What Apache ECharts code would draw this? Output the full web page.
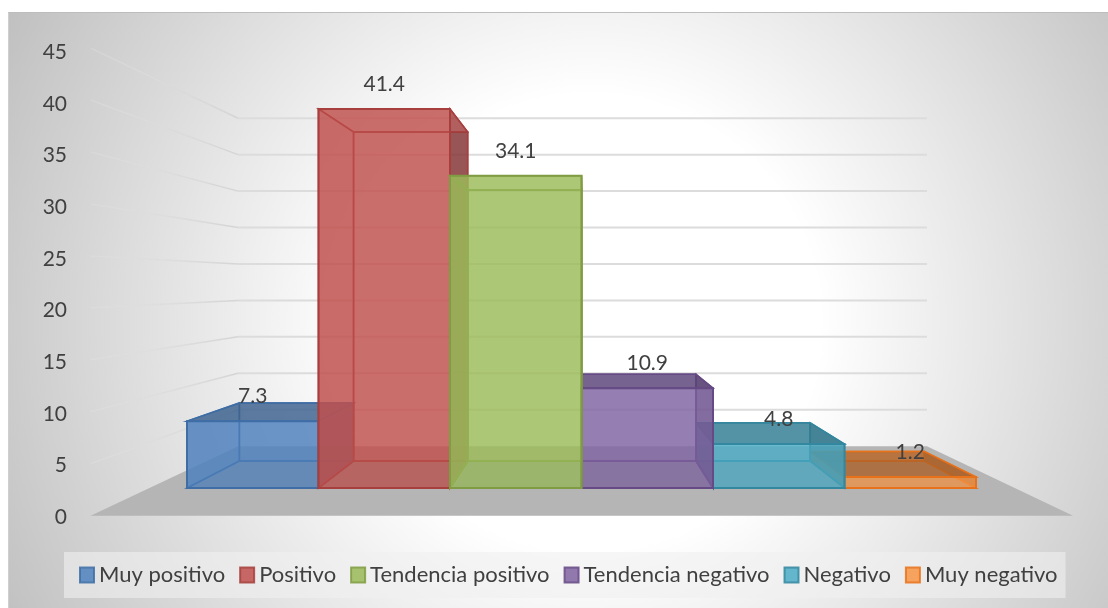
<!DOCTYPE html>
<html>
<head>
<meta charset="utf-8">
<title>Valoracion</title>
<script src="https://cdn.jsdelivr.net/npm/echarts@6/dist/echarts.min.js"></script>
<style>
    html, body { margin: 0; padding: 0; background: #fff; }
    #bg {
        position: absolute; left: 8px; top: 12px; width: 1100px; height: 596px;
        border-top: 1px solid #bdbdbd; border-left: 1px solid #cfcfcf; box-sizing: border-box;
        background: radial-gradient(ellipse 660px 650px at 580px 310px, #fff 35%, #c0c0c0 100%);
    }
    #chart { position: absolute; left: 0; top: 0; width: 1108px; height: 608px; }
</style>
</head>
<body>
<div id="bg"></div>
<div id="chart"></div>
<script>
    const categories = ['Muy positivo', 'Positivo', 'Tendencia positivo', 'Tendencia negativo', 'Negativo', 'Muy negativo'];
    const values = [7.3, 41.4, 34.1, 10.9, 4.8, 1.2];
    const tickValues = [5, 10, 15, 20, 25, 30, 35, 40, 45];

    const faceColors = ['79,129,189', '192,80,77', '155,187,89', '128,100,162', '75,172,198', '247,150,70'];
    const edgeColors = ['#3f6ea6', '#a63f3d', '#7f9c42', '#664a85', '#33879f', '#e8721a'];
    const darkColors = ['62,96,136', '122,50,52', '110,140,60', '88,66,116', '50,120,140', '170,95,40'];
    // bars nearest to the vanishing point are painted last
    const barLayers = [2, 3, 5, 4, 3, 2];

    // perspective of the Excel 3D look
    const VX = 584, VY = 283;
    const DEPTH_WALL_FRONT = 1.135, DEPTH_BAR_BACK = 0.868, DEPTH_WALL = 0.796;
    const FLOOR_LEFT = 149.3, FLOOR_RIGHT = 1014.9;

    function project(x, y, s) {
        return [VX + (x - VX) * s, VY + (y - VY) * s];
    }

    function face(points, fill, stroke, lineWidth) {
        return {
            type: 'polygon',
            shape: { points: points },
            style: { fill: fill, stroke: stroke, lineWidth: lineWidth, lineJoin: 'miter' }
        };
    }

    function renderBar(colorIndex) {
        return function (params, api) {
            const top = api.coord([api.value(0), api.value(1)]);
            const base = api.coord([api.value(0), 0]);
            const half = api.size([1, 0])[0] / 2;
            const x0 = top[0] - half, x1 = top[0] + half;
            const c = faceColors[colorIndex], d = darkColors[colorIndex], e = edgeColors[colorIndex];

            const fTL = [x0, top[1]], fTR = [x1, top[1]], fBL = [x0, base[1]], fBR = [x1, base[1]];
            const bTL = project(x0, top[1], DEPTH_BAR_BACK), bTR = project(x1, top[1], DEPTH_BAR_BACK);
            const bBL = project(x0, base[1], DEPTH_BAR_BACK), bBR = project(x1, base[1], DEPTH_BAR_BACK);

            const topFill = top[1] > VY ? 'rgba(' + d + ',0.7)' : 'rgba(' + c + ',0.5)';
            return {
                type: 'group',
                children: [
                    face([bTL, bTR, bBR, bBL], 'rgba(' + c + ',0.5)', e, 1.5),
                    face([fBL, fBR, bBR, bBL], 'rgba(' + d + ',0.3)', e, 1.5),
                    face([fTL, bTL, bBL, fBL], 'rgba(' + c + ',0.55)', e, 1.5),
                    face([fTR, bTR, bBR, fBR], 'rgba(' + d + ',0.7)', e, 1.5),
                    face([fTL, fTR, bTR, bTL], topFill, e, 1.5),
                    face([fTL, fTR, fBR, fBL], 'rgba(' + c + ',0.65)', e, 2),
                    {
                        type: 'text',
                        z2: 100,
                        style: {
                            x: top[0], y: top[1] - 25,
                            text: String(api.value(1)),
                            align: 'center', verticalAlign: 'middle',
                            fill: '#404040', font: '21px Lato'
                        }
                    }
                ]
            };
        };
    }

    function renderFloor(params, api) {
        const y = api.coord([0, 0])[1];
        return face([
            project(FLOOR_LEFT, y, DEPTH_WALL),
            project(FLOOR_RIGHT, y, DEPTH_WALL),
            project(FLOOR_RIGHT, y, DEPTH_WALL_FRONT),
            project(FLOOR_LEFT, y, DEPTH_WALL_FRONT)
        ], '#b5b5b5', null, 0);
    }

    function renderWallLine(params, api) {
        const y = api.coord([0, api.value(0)])[1];
        const a = project(FLOOR_LEFT, y, DEPTH_WALL_FRONT);
        const b = project(FLOOR_LEFT, y, DEPTH_WALL);
        const c = project(FLOOR_RIGHT, y, DEPTH_WALL);
        return {
            type: 'group',
            children: [
                {
                    type: 'line',
                    shape: { x1: a[0], y1: a[1], x2: b[0], y2: b[1] },
                    style: {
                        lineWidth: 1.5,
                        stroke: new echarts.graphic.LinearGradient(a[0], a[1], b[0], b[1], [
                            { offset: 0, color: 'rgba(226,226,226,0.35)' },
                            { offset: 1, color: 'rgba(212,212,212,1)' }
                        ], true)
                    }
                },
                {
                    type: 'line',
                    shape: { x1: b[0], y1: b[1], x2: c[0], y2: c[1] },
                    style: { stroke: '#dcdcdc', lineWidth: 2 }
                }
            ]
        };
    }

    const series = [
        {
            name: 'floor',
            type: 'custom',
            xAxisIndex: 1,
            yAxisIndex: 1,
            silent: true,
            z: 1,
            renderItem: renderFloor,
            data: [[0]]
        },
        {
            name: 'wall',
            type: 'custom',
            xAxisIndex: 1,
            yAxisIndex: 1,
            silent: true,
            z: 1,
            renderItem: renderWallLine,
            encode: { y: 0 },
            data: tickValues.map(function (v) { return [v]; })
        }
    ];
    categories.forEach(function (name, i) {
        series.push({
            name: name,
            type: 'custom',
            xAxisIndex: 1,
            yAxisIndex: 1,
            z: barLayers[i],
            renderItem: renderBar(i),
            encode: { x: 0, y: 1 },
            itemStyle: { color: 'rgb(' + faceColors[i] + ')', borderColor: edgeColors[i], borderWidth: 2, opacity: 0.85 },
            data: [[i, values[i]]]
        });
    });

    const myChart = echarts.init(document.getElementById('chart'));
    myChart.setOption({
        animation: false,
        backgroundColor: 'transparent',
        textStyle: { fontFamily: 'Lato' },
        legend: {
            left: 64,
            top: 552,
            padding: [12, 8, 12, 15],
            itemGap: 14,
            itemWidth: 14,
            itemHeight: 15,
            icon: 'rect',
            backgroundColor: 'rgba(240,240,240,0.6)',
            textStyle: { fontSize: 22, color: '#404040', fontFamily: 'Lato' },
            data: categories
        },
        grid: [
            { left: 88, right: 20, top: 52.5, height: 464.5 },
            { left: 187, width: 789, top: 76, height: 412 }
        ],
        xAxis: [
            { gridIndex: 0, type: 'value', show: false },
            { gridIndex: 1, type: 'category', show: false, data: categories }
        ],
        yAxis: [
            {
                gridIndex: 0,
                type: 'value',
                min: 0,
                max: 45,
                interval: 5,
                axisLine: { show: false },
                axisTick: { show: false },
                splitLine: { show: false },
                axisLabel: { margin: 21, fontSize: 21, color: '#404040', fontFamily: 'Lato' }
            },
            { gridIndex: 1, type: 'value', min: 0, max: 45, interval: 5, show: false }
        ],
        series: series
    });
</script>
</body>
</html>
